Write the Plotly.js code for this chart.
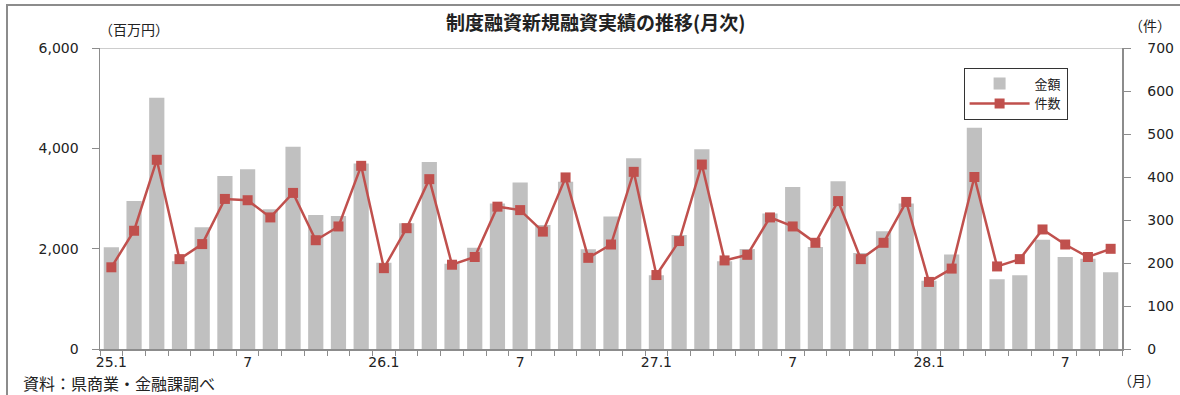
<!DOCTYPE html>
<html>
<head>
<meta charset="utf-8">
<script src="https://cdn.plot.ly/plotly-3.0.1.min.js"></script>
<style>
  html, body { margin: 0; padding: 0; background: #ffffff; width: 1180px; height: 395px; overflow: hidden; }
  #frame { position: absolute; left: 6px; top: 4px; width: 1200px; height: 420px; border: 2px solid #8c8c8c; box-sizing: border-box; }
  #chart { position: absolute; left: 0; top: 0; width: 1180px; height: 395px; }
</style>
</head>
<body>
<div id="frame"></div>
<div id="chart"></div>
<script>
// Months (year.month in Heisei notation)
const months = [
  "25.1","25.2","25.3","25.4","25.5","25.6","25.7","25.8","25.9","25.10","25.11","25.12",
  "26.1","26.2","26.3","26.4","26.5","26.6","26.7","26.8","26.9","26.10","26.11","26.12",
  "27.1","27.2","27.3","27.4","27.5","27.6","27.7","27.8","27.9","27.10","27.11","27.12",
  "28.1","28.2","28.3","28.4","28.5","28.6","28.7","28.8","28.9"
];
// 金額 (百万円)
const amount = [
  2030, 2950, 5010, 1750, 2425, 3450, 3585, 2785, 4030, 2670, 2650, 3700,
  1720, 2505, 3730, 1700, 2020, 2900, 3320, 2470, 3335, 1990, 2640, 3800,
  1470, 2270, 3980, 1750, 1995, 2700, 3230, 2035, 3345, 1915, 2345, 2900,
  1360, 1885, 4410, 1390, 1470, 2180, 1835, 1800, 1530
];
// 件数 (件)
const counts = [
  190, 275, 440, 209, 244, 349, 346, 306, 363, 253, 285, 426,
  188, 281, 395, 196, 214, 331, 323, 273, 399, 212, 243, 412,
  172, 251, 429, 206, 219, 306, 285, 247, 344, 209, 247, 342,
  156, 187, 400, 192, 209, 278, 243, 214, 233
];
// Tick labels shown on the x axis
const tickLabels = ["25.1","7","26.1","7","27.1","7","28.1","7"];
const tickMonths = ["25.1","25.7","26.1","26.7","27.1","27.7","28.1","28.7"];

const xs = months.map((m, i) => i + 1);
const tickvals = tickMonths.map(m => months.indexOf(m) + 1);

const numFont = { family: "DejaVu Sans, Verdana, sans-serif", size: 14, color: "#222222" };
const jpFont = "Noto Sans CJK JP, sans-serif";

const traces = [
  {
    type: "bar",
    name: "金額",
    x: xs,
    y: amount,
    marker: { color: "#C0C0C0" },
    yaxis: "y",
    hoverinfo: "x+y"
  },
  {
    type: "scatter",
    mode: "lines+markers",
    name: "件数",
    x: xs,
    y: counts,
    yaxis: "y2",
    line: { color: "#C0504D", width: 2.5 },
    marker: { color: "#C0504D", symbol: "square", size: 10 }
  }
];

const layout = {
  width: 1180,
  height: 395,
  margin: { l: 100, r: 58, t: 48, b: 46 },
  paper_bgcolor: "rgba(0,0,0,0)",
  plot_bgcolor: "rgba(0,0,0,0)",
  bargap: 0.33,
  showlegend: true,
  legend: {
    x: 0.845, y: 0.935, xanchor: "left", yanchor: "top",
    bordercolor: "#333333", borderwidth: 1, bgcolor: "#ffffff",
    font: { family: jpFont, size: 13, color: "#222222" },
    tracegroupgap: 0, itemwidth: 60
  },
  title: {
    text: "<b>制度融資新規融資実績の推移(月次)</b>",
    x: 0.485, xref: "paper", xanchor: "center",
    y: 0.94, yanchor: "middle",
    font: { family: jpFont, size: 19, color: "#222222" }
  },
  xaxis: {
    range: [0.5, 45.5],
    tickvals: tickvals,
    ticktext: tickLabels,
    ticks: "",
    showline: true,
    linecolor: "#8c8c8c",
    linewidth: 1.5,
    showgrid: false,
    zeroline: false,
    tickfont: numFont,
    minor: { ticks: "outside", tick0: 0.5, dtick: 1, ticklen: 5, tickcolor: "#8c8c8c", tickwidth: 1, showgrid: false }
  },
  yaxis: {
    range: [0, 6000],
    tickvals: [0, 2000, 4000, 6000],
    tickformat: ",d",
    ticks: "outside",
    ticklen: 7,
    tickcolor: "#8c8c8c",
    showline: true,
    linecolor: "#8c8c8c",
    linewidth: 1.5,
    showgrid: false,
    zeroline: false,
    tickfont: numFont,
    ticklabelstandoff: 10
  },
  yaxis2: {
    range: [0, 700],
    dtick: 100,
    overlaying: "y",
    side: "right",
    ticks: "outside",
    ticklen: 7,
    tickcolor: "#8c8c8c",
    showline: true,
    linecolor: "#8c8c8c",
    linewidth: 1.5,
    showgrid: false,
    zeroline: false,
    tickfont: numFont,
    ticklabelstandoff: 14
  },
  shapes: [
    { type: "line", xref: "paper", yref: "y", x0: 0, x1: 1, y0: 6000, y1: 6000,
      line: { color: "#bdbdbd", width: 1.5 } }
  ],
  annotations: [
    { text: "（百万円）", xref: "paper", yref: "paper", x: -0.003, y: 1.063, xanchor: "left", yanchor: "middle",
      showarrow: false, font: { family: jpFont, size: 14, color: "#222222" } },
    { text: "（件）", xref: "paper", yref: "paper", x: 1.005, y: 1.077, xanchor: "left", yanchor: "middle",
      showarrow: false, font: { family: jpFont, size: 14, color: "#222222" } },
    { text: "（月）", xref: "paper", yref: "paper", x: 0.994, y: -0.103, xanchor: "left", yanchor: "middle",
      showarrow: false, font: { family: jpFont, size: 14, color: "#222222" } },
    { text: "資料：県商業・金融課調べ", xref: "paper", yref: "paper", x: -0.077, y: -0.113, xanchor: "left", yanchor: "middle",
      showarrow: false, font: { family: jpFont, size: 16, color: "#222222" } }
  ]
};

Plotly.newPlot("chart", traces, layout, { displayModeBar: false, staticPlot: true });
</script>
</body>
</html>
